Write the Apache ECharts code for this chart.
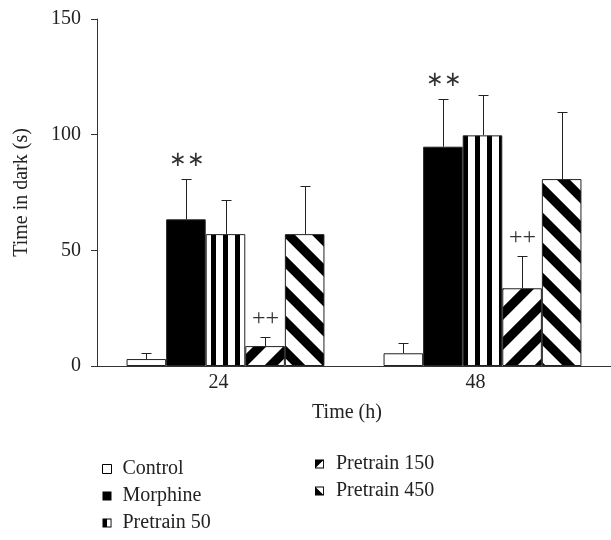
<!DOCTYPE html>
<head>
    <meta charset="utf-8">
    <title>Time in dark</title>
    <script src="https://cdn.jsdelivr.net/npm/echarts@6/dist/echarts.min.js"></script>
    <style>
        body { margin: 0; background: #fff; }
    </style>
</head>
<body>
    <div id="main" style="width: 611px;height:540px"></div>
    <script type="text/javascript">
        // values (mean, standard error)
        var categories = ['24', '48'];
        var seriesNames = ['Control', 'Morphine', 'Pretrain 50', 'Pretrain 150', 'Pretrain 450'];
        var control = [3.0, 5.5];
        var morphine = [63.4, 94.8];
        var pretrain50 = [57.0, 99.7];
        var pretrain150 = [8.6, 33.6];
        var pretrain450 = [57.0, 80.8];
        var controlErr = [2.8, 4.6];
        var morphineErr = [17.3, 20.6];
        var pretrain50Err = [14.6, 17.5];
        var pretrain150Err = [4.1, 14.0];
        var pretrain450Err = [20.8, 29.0];
        var marks = ['', '\u2217\u2217', '', '++', ''];
        var yTicks = [0, 50, 100, 150];

        var means = [control, morphine, pretrain50, pretrain150, pretrain450];
        var errs = [controlErr, morphineErr, pretrain50Err, pretrain150Err, pretrain450Err];
        var GAP = 0.23;
        var FONT = '"Liberation Serif", "Times New Roman", serif';
        var FS = 20;

        // fill patterns for the striped bars
        function stripes(kind) {
            var c = document.createElement('canvas');
            var n = kind === 'v' ? 12 : 30;
            c.width = n; c.height = n;
            var ctx = c.getContext('2d');
            var img = ctx.createImageData(n, n);
            for (var y = 0; y < n; y++) {
                for (var x = 0; x < n; x++) {
                    var hit = 0;
                    for (var sy = 0; sy < 4; sy++) {
                        for (var sx = 0; sx < 4; sx++) {
                            var px = x + (sx + 0.5) / 4, py = y + (sy + 0.5) / 4, t;
                            if (kind === 'v') t = (px % 12) >= 7;
                            else if (kind === 'up') t = ((px + py) % 30) < 13;
                            else t = (((py - px) % 30) + 30) % 30 < 13;
                            if (t) hit++;
                        }
                    }
                    var v = Math.round(255 * (1 - hit / 16));
                    var i = (y * n + x) * 4;
                    img.data[i] = v; img.data[i + 1] = v; img.data[i + 2] = v; img.data[i + 3] = 255;
                }
            }
            ctx.putImageData(img, 0, 0);
            return { image: c, repeat: 'repeat' };
        }

        var fills = ['#ffffff', '#000000', stripes('v'), stripes('up'), stripes('down')];

        // legend icons: square outline with a filled part
        var ring = 'M0,0 L10,0 L10,10 L0,10 Z M1,1 L1,9 L9,9 L9,1 Z ';
        var icons = [
            'rect',
            'rect',
            'path://' + ring + 'M1,1 L5,1 L5,9 L1,9 Z',
            'path://' + ring + 'M1,1 L9,1 L1,9 Z',
            'path://' + ring + 'M1,1 L9,9 L1,9 Z'
        ];
        var legendItems = seriesNames.map(function (name, i) {
            return {
                name: name,
                icon: icons[i],
                itemStyle: i === 0 ? { color: '#fff', borderColor: '#000', borderWidth: 1 }
                                   : { color: '#000', borderWidth: 0, decal: 'none' }
            };
        });

        var series = seriesNames.map(function (name, i) {
            return {
                name: name,
                type: 'bar',
                data: means[i],
                barGap: 0,
                barCategoryGap: (GAP * 100) + '%',
                itemStyle: { color: fills[i], borderColor: '#222', borderWidth: 1 },
                emphasis: { disabled: true }
            };
        });

        var errData = [];
        for (var s = 0; s < means.length; s++) {
            for (var c = 0; c < categories.length; c++) {
                errData.push([c, s, means[s][c], means[s][c] + errs[s][c]]);
            }
        }

        series.push({
            type: 'custom',
            name: 'err',
            data: errData,
            z: 5,
            renderItem: function (params, api) {
                var cat = api.value(0), si = api.value(1);
                var base = api.coord([cat, api.value(2)]);
                var top = api.coord([cat, api.value(3)]);
                var band = api.size([1, 0])[0];
                var groupW = band * (1 - GAP);
                var bw = groupW / seriesNames.length;
                var x = Math.round(base[0] - groupW / 2 + (si + 0.5) * bw) + 0.5;
                var yT = Math.round(top[1]) + 0.5;
                var st = { stroke: '#222', lineWidth: 1 };
                var kids = [
                    { type: 'line', shape: { x1: x, y1: base[1], x2: x, y2: yT }, style: st },
                    { type: 'line', shape: { x1: x - 5, y1: yT, x2: x + 5, y2: yT }, style: st }
                ];
                if (marks[si]) {
                    kids.push({
                        type: 'text',
                        style: {
                            text: marks[si], x: x, y: yT - 19,
                            align: 'center', verticalAlign: 'middle',
                            fontFamily: FONT, fontSize: marks[si] === '++' ? 24 : 21, fill: '#333'
                        }
                    });
                }
                return { type: 'group', children: kids };
            }
        });

        var myChart = echarts.init(document.getElementById('main'));
        var option = {
            animation: false,
            textStyle: { fontFamily: FONT },
            grid: { left: 97, right: -10, top: 19, bottom: 174, containLabel: false },
            legend: [
                {
                    data: legendItems.slice(0, 3),
                    orient: 'vertical', left: 97, top: 454,
                    itemWidth: 9, itemHeight: 9, itemGap: 7,
                    textStyle: { fontFamily: FONT, fontSize: FS, color: '#222', lineHeight: 20, padding: [0, 0, 0, 6] },
                    selectedMode: false
                },
                {
                    data: legendItems.slice(3),
                    orient: 'vertical', left: 310, top: 449,
                    itemWidth: 9, itemHeight: 9, itemGap: 7,
                    textStyle: { fontFamily: FONT, fontSize: FS, color: '#222', lineHeight: 20, padding: [0, 0, 0, 7] },
                    selectedMode: false
                }
            ],
            xAxis: {
                type: 'category',
                data: categories,
                name: 'Time (h)',
                nameLocation: 'middle',
                nameGap: 37,
                nameTextStyle: { fontFamily: FONT, fontSize: FS, color: '#222', padding: [0, 14, 0, 0] },
                axisLine: { lineStyle: { color: '#333', width: 1 } },
                axisTick: { length: 6, lineStyle: { color: '#333' } },
                axisLabel: { fontFamily: FONT, fontSize: FS, color: '#222', margin: 7, padding: [0, 14, 0, 0] }
            },
            yAxis: {
                type: 'value',
                min: yTicks[0],
                max: yTicks[yTicks.length - 1],
                interval: 50,
                name: 'Time in dark (s)',
                nameLocation: 'middle',
                nameGap: 65,
                nameTextStyle: { fontFamily: FONT, fontSize: FS, color: '#222' },
                axisLine: { show: true, lineStyle: { color: '#333', width: 1 } },
                axisTick: { show: true, length: 6, lineStyle: { color: '#333' } },
                axisLabel: { fontFamily: FONT, fontSize: FS, color: '#222', margin: 16 },
                splitLine: { show: false }
            },
            series: series
        };
        myChart.setOption(option);
    </script>
</body>
